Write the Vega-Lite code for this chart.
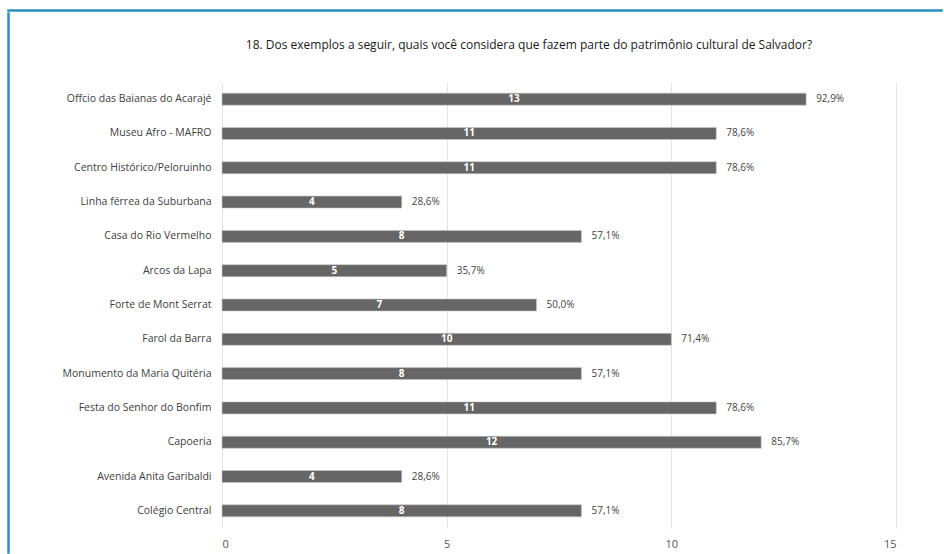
{
  "$schema": "https://vega.github.io/schema/vega-lite/v6.json",
  "background": "white",
  "padding": {"left": 7, "top": 9, "right": 0, "bottom": 0},
  "config": {"view": {"stroke": null}, "font": "Open Sans"},
  "spacing": 0,
  "vconcat": [
    {
      "width": 934,
      "height": 1,
      "view": {"stroke": "#2a8ec2", "strokeWidth": 1.5, "fill": "#2a8ec2"},
      "data": {"values": []},
      "mark": {"type": "text"},
      "encoding": {"text": {"value": ""}}
    },
    {
      "spacing": 0,
      "hconcat": [
        {
          "width": 1,
          "height": 540,
          "view": {"stroke": "#2a8ec2", "strokeWidth": 1.5, "fill": "#2a8ec2"},
          "data": {"values": []},
          "mark": {"type": "text"},
          "encoding": {"text": {"value": ""}}
        },
        {
          "spacing": 25,
          "vconcat": [
            {
              "width": 1,
              "height": 1,
              "data": {"values": []},
              "mark": {"type": "text"},
              "encoding": {"text": {"value": ""}}
            },
            {
              "title": {
                "text": "18. Dos exemplos a seguir, quais você considera que fazem parte do patrimônio cultural de Salvador?",
                "fontSize": 12,
                "fontWeight": "normal",
                "color": "#1a1a1a",
                "anchor": "middle",
                "frame": "group",
                "dx": -30,
                "offset": 30
              },
              "width": 674,
              "height": 446,
              "data": {
                "values": [
                  {"item": "Offcio das Baianas do Acarajé", "count": 13, "pct": "92,9%"},
                  {"item": "Museu Afro - MAFRO", "count": 11, "pct": "78,6%"},
                  {"item": "Centro Histórico/Peloruinho", "count": 11, "pct": "78,6%"},
                  {"item": "Linha férrea da Suburbana", "count": 4, "pct": "28,6%"},
                  {"item": "Casa do Rio Vermelho", "count": 8, "pct": "57,1%"},
                  {"item": "Arcos da Lapa", "count": 5, "pct": "35,7%"},
                  {"item": "Forte de Mont Serrat", "count": 7, "pct": "50,0%"},
                  {"item": "Farol da Barra", "count": 10, "pct": "71,4%"},
                  {"item": "Monumento da Maria Quitéria", "count": 8, "pct": "57,1%"},
                  {"item": "Festa do Senhor do Bonfim", "count": 11, "pct": "78,6%"},
                  {"item": "Capoeria", "count": 12, "pct": "85,7%"},
                  {"item": "Avenida Anita Garibaldi", "count": 4, "pct": "28,6%"},
                  {"item": "Colégio Central", "count": 8, "pct": "57,1%"}
                ]
              },
              "encoding": {
                "y": {
                  "field": "item",
                  "type": "nominal",
                  "sort": null,
                  "scale": {"paddingInner": 0.65, "paddingOuter": 0.325},
                  "axis": {
                    "title": null,
                    "ticks": false,
                    "domain": false,
                    "labelPadding": 11,
                    "labelFontSize": 10.5,
                    "labelColor": "#404040",
                    "labelLimit": 300,
                    "minExtent": 212
                  }
                }
              },
              "resolve": {"scale": {"x": "independent"}},
              "layer": [
                {
                  "mark": {"type": "bar", "color": "#666666", "stroke": "#c8c8c8", "strokeWidth": 0.6},
                  "encoding": {
                    "x": {
                      "field": "count",
                      "type": "quantitative",
                      "scale": {"domain": [0, 15], "nice": false},
                      "axis": {
                        "title": null,
                        "values": [0, 5, 10, 15],
                        "grid": true,
                        "gridColor": "#e3e3e3",
                        "domain": false,
                        "ticks": false,
                        "labelPadding": 10,
                        "labelFontSize": 11,
                        "labelColor": "#555555"
                      }
                    }
                  }
                },
                {
                  "mark": {"type": "text", "color": "white", "fontWeight": "bold", "fontSize": 10},
                  "encoding": {
                    "x": {
                      "field": "count",
                      "type": "quantitative",
                      "scale": {"domain": [0, 30], "nice": false},
                      "axis": null
                    },
                    "text": {"field": "count", "type": "quantitative"}
                  }
                },
                {
                  "mark": {"type": "text", "align": "left", "dx": 10, "fontSize": 10, "color": "#444444"},
                  "encoding": {
                    "x": {
                      "field": "count",
                      "type": "quantitative",
                      "scale": {"domain": [0, 15], "nice": false},
                      "axis": null
                    },
                    "text": {"field": "pct"}
                  }
                }
              ]
            }
          ]
        }
      ]
    }
  ]
}
